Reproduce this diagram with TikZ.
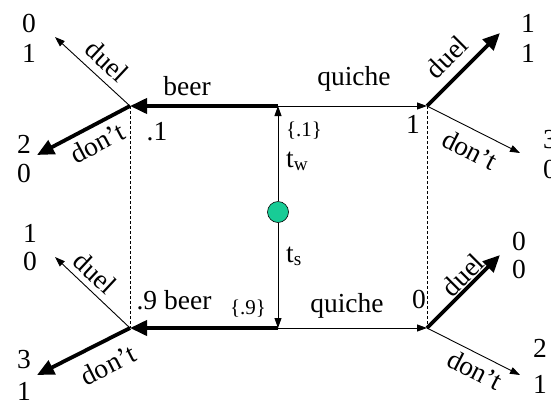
\documentclass[tikz,border=0pt]{standalone}
\usepackage{fontspec}
\setmainfont{Liberation Serif}
\usetikzlibrary{arrows.meta}
\definecolor{nodegreen}{RGB}{24,204,150}
\begin{document}
\begin{tikzpicture}[x=1pt,y=-1pt,
  thinarr/.style={line width=0.9pt,-{Triangle[length=10pt,width=7pt]}},
  thickarr/.style={line width=3.8pt,-{Triangle[length=17pt,width=15pt]}},
  dashline/.style={line width=0.7pt,dash pattern=on 3pt off 2pt},
  lab/.style={font=\fontsize{27.5}{32}\selectfont,inner sep=0pt},
  smalllab/.style={font=\fontsize{21}{25}\selectfont,inner sep=0pt},
  chance/.style={circle,fill=nodegreen,draw=black,line width=0.6pt,minimum size=21pt,inner sep=0pt}
]
\useasboundingbox (0,0) rectangle (551,400);

% nodes / coordinates
\node[chance] (n) at (278,212) {};
\coordinate (tw) at (278,106);
\coordinate (ts) at (278,328);
\coordinate (L1) at (130,106);
\coordinate (R1) at (427,106);
\coordinate (L2) at (130,328);
\coordinate (R2) at (427,328);
\coordinate (a1) at (55,37);
\coordinate (b1) at (37,155);
\coordinate (c1) at (500,33);
\coordinate (d1) at (520,153);
\coordinate (a2) at (55,257);
\coordinate (b2) at (37,375);
\coordinate (c2) at (500,255);
\coordinate (d2) at (520,375);

% information sets
\draw[dashline] (L1) -- (L2);
\draw[dashline] (R1) -- (R2);

% nature
\draw[thinarr] (n) -- (tw);
\draw[thinarr] (n) -- (ts);

% sender
\draw[thickarr] (tw) -- (L1);
\draw[thinarr] (tw) -- (R1);
\draw[thickarr] (ts) -- (L2);
\draw[thinarr] (ts) -- (R2);

% receiver
\draw[thinarr] (L1) -- (a1);
\draw[thickarr] (L1) -- (b1);
\draw[thickarr] (R1) -- (c1);
\draw[thinarr] (R1) -- (d1);
\draw[thinarr] (L2) -- (a2);
\draw[thickarr] (L2) -- (b2);
\draw[thickarr] (R2) -- (c2);
\draw[thinarr] (R2) -- (d2);

% sender labels
\node[lab,anchor=base] (lbeer1) at (187,95) {beer};
\node[lab,anchor=base] (lquiche1) at (354,85) {quiche};
\node[lab,anchor=base] (lbeer2) at (174,309) {.9 beer};
\node[lab,anchor=base] (lquiche2) at (347,312) {quiche};

% beliefs and types
\node[lab,anchor=base] (p1) at (157,140) {.1};
\node[smalllab,anchor=base] (q1) at (304,136) {\{.1\}};
\node[lab,anchor=base] (r1) at (413,133) {1};
\node[smalllab,anchor=base] (q2) at (248,314) {\{.9\}};
\node[lab,anchor=base] (r2) at (419,308) {0};
\node[lab,anchor=base west] (ltw) at (286,167) {t$_{\mathrm{w}}$};
\node[lab,anchor=base west] (lts) at (286,262) {t$_{\mathrm{s}}$};

% receiver labels
\node[lab,rotate=-43] (d1l) at (107,61) {duel};
\node[lab,rotate=28] (n1l) at (97,143) {don't};
\node[lab,rotate=45] (d2l) at (447,57) {duel};
\node[lab,rotate=-27] (n2l) at (470,150) {don't};
\node[lab,rotate=-43] (d3l) at (95,273) {duel};
\node[lab,rotate=27] (n3l) at (108,365) {don't};
\node[lab,rotate=45] (d4l) at (463,275) {duel};
\node[lab,rotate=-27] (n4l) at (475,370) {don't};

% payoffs
\node[lab,anchor=base] (pa1) at (29,32) {0};
\node[lab,anchor=base] (pa2) at (29,62) {1};
\node[lab,anchor=base] (pb1) at (24,153) {2};
\node[lab,anchor=base] (pb2) at (24,182) {0};
\node[lab,anchor=base] (pc1) at (528,32) {1};
\node[lab,anchor=base] (pc2) at (528,62) {1};
\node[lab,anchor=base] (pd1) at (550,148) {3};
\node[lab,anchor=base] (pd2) at (550,178) {0};
\node[lab,anchor=base] (pe1) at (30,242) {1};
\node[lab,anchor=base] (pe2) at (30,270) {0};
\node[lab,anchor=base] (pf1) at (24,368) {3};
\node[lab,anchor=base] (pf2) at (24,400) {1};
\node[lab,anchor=base] (pg1) at (519,250) {0};
\node[lab,anchor=base] (pg2) at (519,278) {0};
\node[lab,anchor=base] (ph1) at (540,357) {2};
\node[lab,anchor=base] (ph2) at (540,393) {1};
\end{tikzpicture}
\end{document}
